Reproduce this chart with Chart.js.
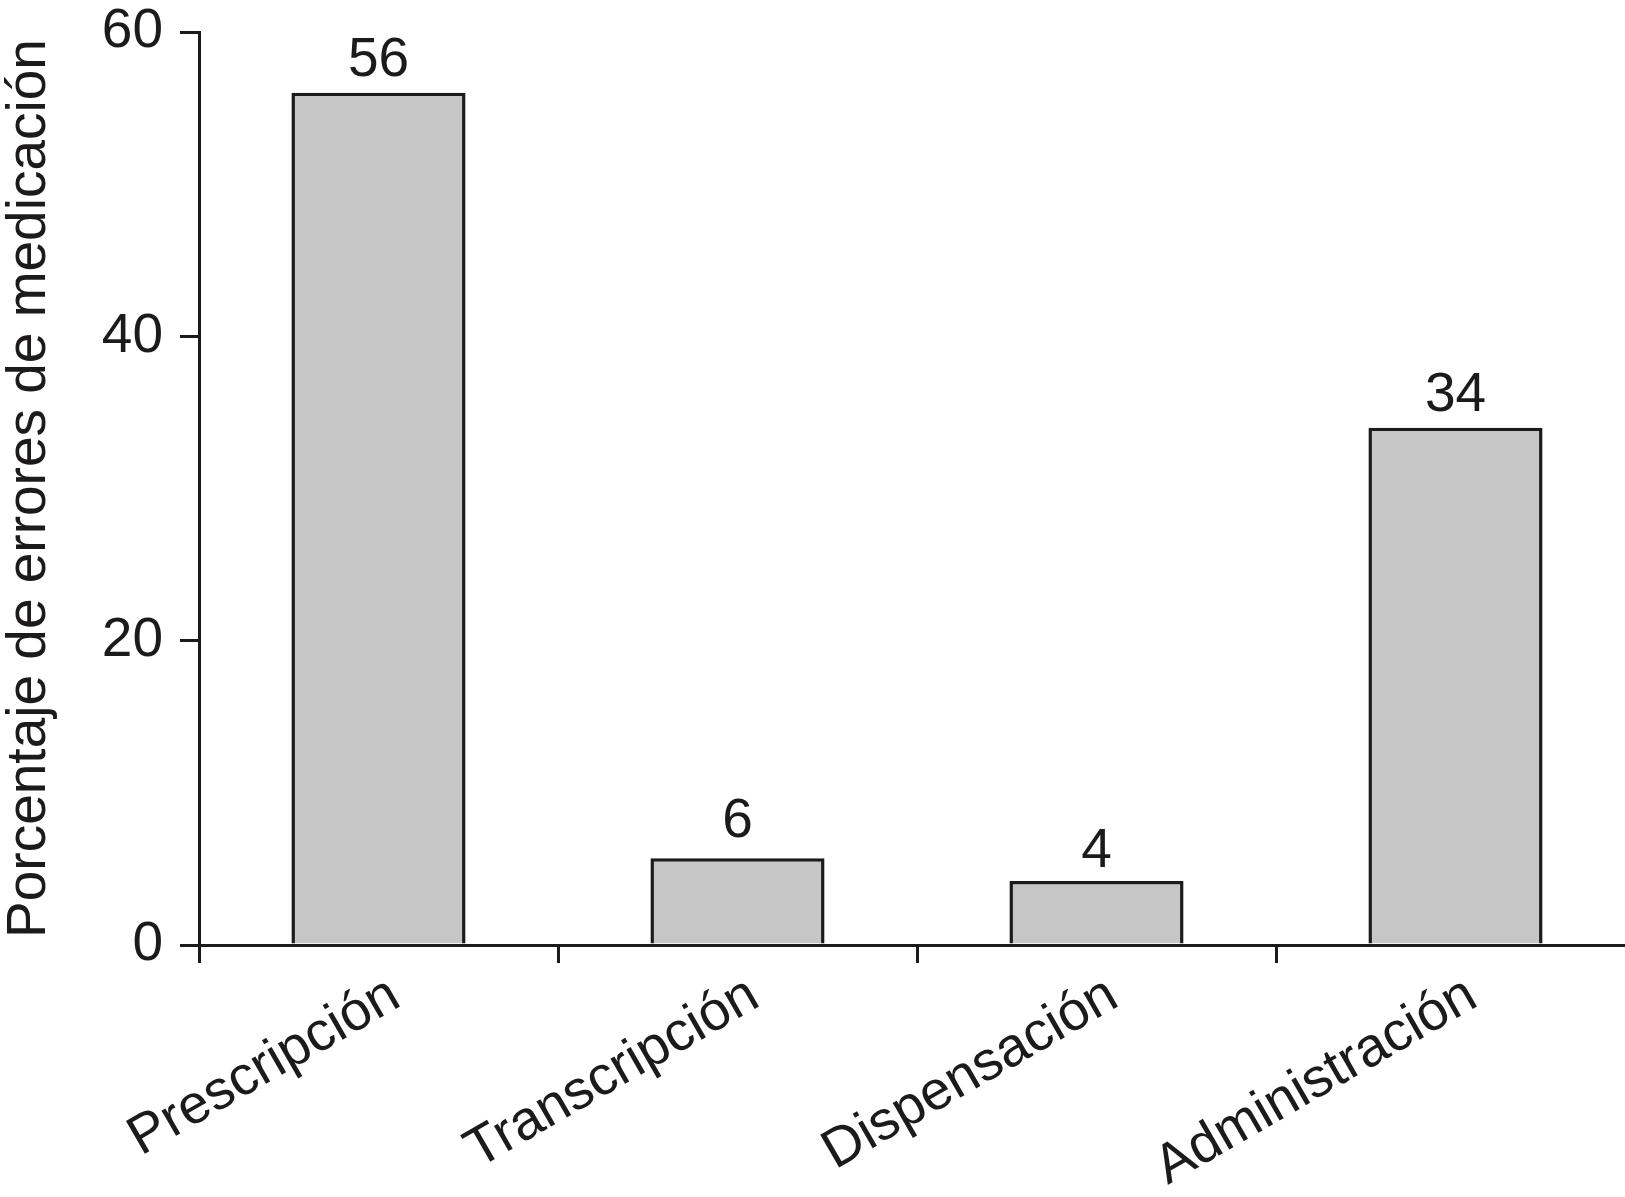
<!DOCTYPE html>
<html>
<head>
<meta charset="utf-8">
<script src="https://cdn.jsdelivr.net/npm/chart.js@4/dist/chart.umd.min.js"></script>
<style>
  html, body { margin: 0; padding: 0; background: #ffffff; overflow: hidden; }
  #wrap { width: 1625px; height: 1197px; position: relative; overflow: hidden; }
</style>
</head>
<body>
<div id="wrap"><canvas id="c" width="1638" height="1197"></canvas></div>
<script>
// ---- data ----
const categories = ["Prescripción", "Transcripción", "Dispensación", "Administración"];
const values = [56, 5.7, 4.2, 34];
const valueLabels = [56, 6, 4, 34];
const yTicks = [0, 20, 40, 60];
const yTitle = "Porcentaje de errores de medicación";

const INK = "#1c1a1b";
const FONT = "'Liberation Sans', Arial, sans-serif";

const valueLabelPlugin = {
  id: "valueLabels",
  afterDatasetsDraw(chart) {
    const ctx = chart.ctx;
    const meta = chart.getDatasetMeta(0);
    const yScale = chart.scales.y;
    ctx.save();
    ctx.fillStyle = INK;
    ctx.font = "55px " + FONT;
    ctx.textAlign = "center";
    ctx.textBaseline = "alphabetic";
    meta.data.forEach((bar, i) => {
      const y = yScale.getPixelForValue(valueLabels[i]) - 17;
      ctx.fillText(String(valueLabels[i]), bar.x, y);
    });
    ctx.restore();
  }
};

new Chart(document.getElementById("c"), {
  type: "bar",
  data: {
    labels: categories,
    datasets: [{
      data: values,
      backgroundColor: "#c6c6c6",
      borderColor: INK,
      borderWidth: 3.5,
      borderSkipped: "bottom",
      categoryPercentage: 1.0,
      barPercentage: 0.485
    }]
  },
  options: {
    responsive: false,
    animation: false,
    devicePixelRatio: 1,
    layout: { padding: { left: 0, right: 3, top: 32, bottom: 0 } },
    plugins: {
      legend: { display: false },
      tooltip: { enabled: false },
      title: { display: false }
    },
    scales: {
      x: {
        type: "category",
        offset: true,
        border: { display: true, color: INK, width: 3 },
        grid: {
          display: true,
          drawOnChartArea: false,
          drawTicks: true,
          tickLength: 18,
          color: INK,
          lineWidth: 3,
          offset: true
        },
        ticks: {
          color: INK,
          font: { family: FONT, size: 55 },
          minRotation: 30,
          maxRotation: 30,
          autoSkip: false,
          padding: 0,
          labelOffset: 17
        },
        afterFit(scale) { scale.height = 252; scale.paddingLeft = 0; scale.paddingRight = 0; }
      },
      y: {
        min: 0,
        max: 60,
        border: { display: true, color: INK, width: 3 },
        grid: {
          display: true,
          drawOnChartArea: false,
          drawTicks: true,
          tickLength: 19,
          color: INK,
          lineWidth: 3
        },
        afterBuildTicks(scale) {
          scale.ticks = yTicks.map(v => ({ value: v }));
        },
        ticks: {
          color: INK,
          font: { family: FONT, size: 55 },
          padding: 17
        },
        title: {
          display: true,
          text: yTitle,
          color: INK,
          font: { family: FONT, size: 55, lineHeight: 1.1 },
          padding: { top: 0, bottom: 0 }
        },
        afterFit(scale) { scale.width = 199; scale.paddingTop = 0; scale.paddingBottom = 0; }
      }
    }
  },
  plugins: [valueLabelPlugin]
});
</script>
</body>
</html>
